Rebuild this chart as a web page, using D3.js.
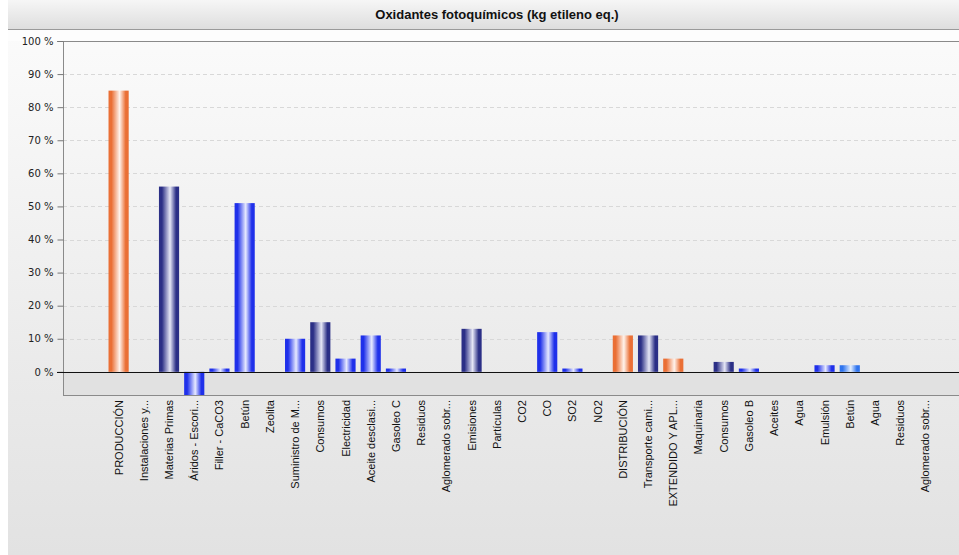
<!DOCTYPE html>
<html><head><meta charset="utf-8">
<script src="https://cdn.jsdelivr.net/npm/d3@7"></script>
<style>
html,body{margin:0;padding:0;background:#fff;}
svg{display:block;}
</style></head>
<body>
<svg id="chart" width="959" height="555"></svg>
<script>
const title = "Oxidantes fotoquímicos (kg etileno eq.)";
const categories = ["PRODUCCIÓN","Instalaciones y...","Materias Primas","Áridos - Escori...","Filler - CaCO3","Betún","Zeolita","Suministro de M...","Consumos","Electricidad","Aceite desclasi...","Gasoleo C","Residuos","Aglomerado sobr...","Emisiones","Partículas","CO2","CO","SO2","NO2","DISTRIBUCIÓN","Transporte cami...","EXTENDIDO Y APL...","Maquinaria","Consumos","Gasoleo B","Aceites","Agua","Emulsión","Betún","Agua","Residuos","Aglomerado sobr..."];
const values = [85,0,56,-7,1,51,0,10,15,4,11,1,0,0,13,0,0,12,1,0,11,11,4,0,3,1,0,0,2,2,0,0,0];
const levels = [0,1,1,2,2,2,2,2,1,2,2,2,1,1,1,2,2,2,2,2,0,1,0,1,1,2,2,2,2,3,1,1,1];
const yTicks = [0,10,20,30,40,50,60,70,80,90,100];

const svg = d3.select("#chart");
const W = 959, H = 555;
const defs = svg.append("defs");

const bg = defs.append("linearGradient").attr("id","bg").attr("x1",0).attr("y1",0).attr("x2",0).attr("y2",1);
bg.append("stop").attr("offset","0%").attr("stop-color","#fbfbfb");
bg.append("stop").attr("offset","70%").attr("stop-color","#e9e9e9");
bg.append("stop").attr("offset","100%").attr("stop-color","#e2e2e2");
const hd = defs.append("linearGradient").attr("id","hd").attr("x1",0).attr("y1",0).attr("x2",0).attr("y2",1);
hd.append("stop").attr("offset","0%").attr("stop-color","#f6f6f6");
hd.append("stop").attr("offset","100%").attr("stop-color","#dedede");

svg.append("rect").attr("x",8).attr("y",30).attr("width",W-8).attr("height",H-30).attr("fill","url(#bg)");
svg.append("rect").attr("x",8).attr("y",0).attr("width",W-8).attr("height",29).attr("fill","url(#hd)");
svg.append("line").attr("x1",8).attr("x2",W).attr("y1",29.5).attr("y2",29.5).attr("stroke","#9a9a9a");
svg.append("rect").attr("x",8).attr("y",30).attr("width",W-8).attr("height",11).attr("fill","#fdfdfd");

svg.append("text").attr("x",497).attr("y",19).attr("text-anchor","middle")
  .attr("font-family","Liberation Sans, Arial, sans-serif").attr("font-weight","bold").attr("font-size","13px")
  .attr("fill","#111").text(title);

const x = d3.scaleBand().domain(d3.range(categories.length)).range([106,938]).paddingInner(0.2).paddingOuter(0.1);
const y = d3.scaleLinear().domain([-7,100]).range([395,41]);
const plotL = 63;

svg.append("rect").attr("x",plotL).attr("y",y(0)).attr("width",W-plotL).attr("height",y(-7)-y(0)).attr("fill","#e1e1e1");

svg.append("g").selectAll("line").data(yTicks.filter(d=>d>0 && d<100)).join("line")
  .attr("x1",plotL).attr("x2",W).attr("y1",d=>Math.round(y(d))+0.5).attr("y2",d=>Math.round(y(d))+0.5)
  .attr("stroke","#d8d8d8").attr("stroke-dasharray","4,3");

svg.append("line").attr("x1",57).attr("x2",W).attr("y1",Math.round(y(100))+0.5).attr("y2",Math.round(y(100))+0.5).attr("stroke","#8a8a8a");
svg.append("line").attr("x1",plotL+0.5).attr("x2",plotL+0.5).attr("y1",y(100)).attr("y2",y(-7)).attr("stroke","#8a8a8a");
svg.append("line").attr("x1",plotL).attr("x2",W).attr("y1",Math.round(y(-7))+0.5).attr("y2",Math.round(y(-7))+0.5).attr("stroke","#8a8a8a");

const yAxis = d3.axisLeft(y).tickValues(yTicks).tickSize(6).tickPadding(4).tickFormat(d=>d+" %");
const ya = svg.append("g").attr("transform",`translate(${plotL+0.5},0)`).call(yAxis);
ya.select(".domain").remove();
ya.selectAll(".tick line").attr("stroke","#777");
ya.selectAll(".tick text").attr("font-family","DejaVu Sans, Verdana, sans-serif").attr("font-size","10px").attr("fill","#222");

const palettes = [
  ["#ea6f35","#fff3ec"],
  ["#2b2f86","#e6e7f6"],
  ["#1f30ea","#e6e9ff"],
  ["#2f74ee","#e2eeff"]
];
palettes.forEach((p,i)=>{
  const g = defs.append("linearGradient").attr("id","bar"+i).attr("x1",0).attr("y1",0).attr("x2",1).attr("y2",0);
  g.append("stop").attr("offset","0%").attr("stop-color",p[0]);
  g.append("stop").attr("offset","15%").attr("stop-color",p[0]);
  g.append("stop").attr("offset","55%").attr("stop-color",p[1]);
  g.append("stop").attr("offset","85%").attr("stop-color",p[0]);
  g.append("stop").attr("offset","100%").attr("stop-color",p[0]);
});

svg.append("g").selectAll("rect").data(values.map((v,i)=>({v,i}))).join("rect")
  .filter(d=>d.v!==0)
  .attr("x",d=>x(d.i)).attr("width",x.bandwidth())
  .attr("y",d=>y(Math.max(0,d.v))).attr("height",d=>Math.abs(y(d.v)-y(0)))
  .attr("fill",d=>`url(#bar${levels[d.i]})`);

svg.append("line").attr("x1",57).attr("x2",W).attr("y1",Math.round(y(0))+0.5).attr("y2",Math.round(y(0))+0.5).attr("stroke","#111");

svg.append("g").selectAll("text").data(categories).join("text")
  .attr("transform",(d,i)=>`translate(${x(i)+x.bandwidth()/2+4},400) rotate(-90)`)
  .attr("text-anchor","end")
  .attr("font-family","Liberation Sans, Arial, sans-serif").attr("font-size","11px").attr("fill","#111")
  .text(d=>d);
</script>
</body></html>
